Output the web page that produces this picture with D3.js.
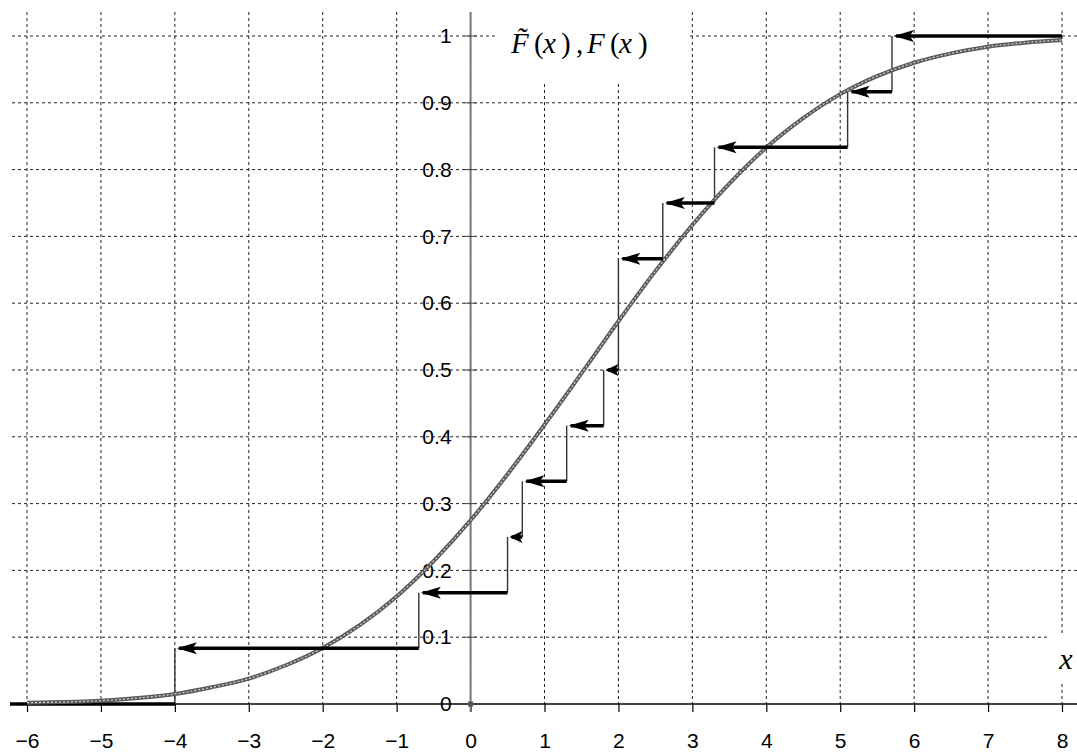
<!DOCTYPE html>
<html>
<head>
<meta charset="utf-8">
<script src="https://cdn.jsdelivr.net/npm/d3@7"></script>
<style>
  body { margin: 0; background: #fff; }
  svg { display: block; }
</style>
</head>
<body>
<div id="chart"></div>
<script>
// sample (sorted) that gives the empirical distribution function
var sampleX = [-4, -0.7, 0.5, 0.7, 1.3, 1.8, 2, 2, 2.6, 3.3, 5.1, 5.7];
// theoretical F(x)
var curveX = [-6, -5.5, -5, -4.5, -4, -3.5, -3, -2.5, -2, -1.5, -1, -0.5, 0, 0.5, 1, 1.5, 2, 2.5, 3, 3.5, 4, 4.5, 5, 5.5, 6, 6.5, 7, 7.5, 8];
var curveF = [0.002, 0.003, 0.005, 0.009, 0.015, 0.025, 0.038, 0.058, 0.084, 0.118, 0.161, 0.214, 0.275, 0.344, 0.418, 0.495, 0.573, 0.648, 0.717, 0.779, 0.833, 0.877, 0.913, 0.940, 0.960, 0.974, 0.984, 0.990, 0.994];
// axes
var xTicks = [-6, -5, -4, -3, -2, -1, 0, 1, 2, 3, 4, 5, 6, 7, 8];
var yTicks = [0, 0.1, 0.2, 0.3, 0.4, 0.5, 0.6, 0.7, 0.8, 0.9, 1];
var yTickLabels = ["0", "0.1", "0.2", "0.3", "0.4", "0.5", "0.6", "0.7", "0.8", "0.9", "1"];
var xStart = -6.23, xEnd = 8;

var width = 1077, height = 753;
var x = d3.scaleLinear().domain([-6, 8]).range([27, 1062]);
var y = d3.scaleLinear().domain([0, 1]).range([704, 36]);
var sans = "'Liberation Sans', Arial, sans-serif";
var serif = "'Liberation Serif', 'Times New Roman', serif";

var svg = d3.select("#chart").append("svg").attr("width", width).attr("height", height);

// dashed grid
svg.append("g").selectAll("line").data(xTicks).enter().append("line")
	.attr("x1", function(d) { return x(d); }).attr("x2", function(d) { return x(d); })
	.attr("y1", 12).attr("y2", y(0))
	.attr("stroke", "#222").attr("stroke-width", 1).attr("stroke-dasharray", "3,3");
svg.append("g").selectAll("line").data(yTicks.slice(1)).enter().append("line")
	.attr("x1", 12).attr("x2", width)
	.attr("y1", function(d) { return y(d); }).attr("y2", function(d) { return y(d); })
	.attr("stroke", "#222").attr("stroke-width", 1).attr("stroke-dasharray", "3,3");

// white patches behind the titles
svg.append("rect").attr("x", 497).attr("y", 0).attr("width", 190).attr("height", 81).attr("fill", "#fff");
svg.append("rect").attr("x", 1050).attr("y", 634).attr("width", 27).attr("height", 49).attr("fill", "#fff");

// x axis
svg.append("line").attr("x1", 10).attr("x2", width).attr("y1", y(0)).attr("y2", y(0))
	.attr("stroke", "#000").attr("stroke-width", 1.5);
var xAxis = d3.axisBottom(x).tickValues(xTicks).tickSize(8).tickPadding(21).tickFormat(d3.format("d"));
var gx = svg.append("g").attr("transform", "translate(0," + y(0) + ")").call(xAxis);
gx.select(".domain").remove();
gx.selectAll(".tick line").attr("stroke", "#000").attr("stroke-width", 1.2);
gx.attr("font-size", 21).attr("font-family", sans);
gx.selectAll("text").attr("fill", "#000");

// y axis
svg.append("line").attr("x1", x(0)).attr("x2", x(0)).attr("y1", 12).attr("y2", y(0) + 8)
	.attr("stroke", "#777").attr("stroke-width", 2);
svg.append("g").selectAll("line").data(yTicks.slice(1)).enter().append("line")
	.attr("x1", x(0) - 6).attr("x2", x(0) + 6)
	.attr("y1", function(d) { return y(d); }).attr("y2", function(d) { return y(d); })
	.attr("stroke", "#444").attr("stroke-width", 1);
var yAxis = d3.axisLeft(y).tickValues(yTicks).tickSize(0).tickPadding(19)
	.tickFormat(function(d, i) { return yTickLabels[i]; });
var gy = svg.append("g").attr("transform", "translate(" + x(0) + ",0)").call(yAxis);
gy.select(".domain").remove();
gy.selectAll(".tick line").remove();
gy.attr("font-size", 21).attr("font-family", sans);
gy.selectAll("text").attr("fill", "#000");
svg.append("rect").attr("x", x(0) - 2.5).attr("y", y(0) - 2.5).attr("width", 5).attr("height", 5).attr("fill", "#555");

// empirical distribution function
var n = sampleX.length;
var steps = [];
var lastLevel = 0;
for (var i = 0; i < n; i++) {
	if (i < n - 1 && sampleX[i + 1] == sampleX[i]) continue;
	var level = (i + 1) / n;
	var next = i < n - 1 ? sampleX[i + 1] : xEnd;
	steps.push({ x0: sampleX[i], x1: next, lo: lastLevel, level: level });
	lastLevel = level;
}

// thin vertical jumps
svg.append("g").selectAll("line").data(steps).enter().append("line")
	.attr("x1", function(d) { return x(d.x0); }).attr("x2", function(d) { return x(d.x0); })
	.attr("y1", function(d) { return y(d.lo); }).attr("y2", function(d) { return y(d.level); })
	.attr("stroke", "#333").attr("stroke-width", 1.4);

// level 0 before the first point
svg.append("line").attr("x1", x(xStart)).attr("x2", x(sampleX[0])).attr("y1", y(0)).attr("y2", y(0))
	.attr("stroke", "#000").attr("stroke-width", 3.5);

// smooth curve
var line = d3.line().x(function(d) { return x(d[0]); }).y(function(d) { return y(d[1]); }).curve(d3.curveMonotoneX);
var curveData = curveX.map(function(v, i) { return [v, curveF[i]]; });
svg.append("path").datum(curveData).attr("d", line).attr("fill", "none")
	.attr("stroke", "#5a5a5a").attr("stroke-width", 4);
svg.append("path").datum(curveData).attr("d", line).attr("fill", "none")
	.attr("stroke", "#ccc").attr("stroke-width", 1.3).attr("stroke-dasharray", "2,2");

// thick horizontal segments with arrowheads pointing left
svg.append("g").selectAll("line").data(steps).enter().append("line")
	.attr("x1", function(d) { return x(d.x0) + 4; }).attr("x2", function(d) { return x(d.x1); })
	.attr("y1", function(d) { return y(d.level); }).attr("y2", function(d) { return y(d.level); })
	.attr("stroke", "#000").attr("stroke-width", 3.5);
svg.append("g").selectAll("path").data(steps).enter().append("path")
	.attr("d", function(d) {
		var tip = x(d.x0) + 2;
		var len = Math.min(20, x(d.x1) - tip);
		var yy = y(d.level);
		return "M" + tip + "," + yy + "L" + (tip + len) + "," + (yy - 6) + "L" + (tip + len * 0.78) + "," + yy +
			"L" + (tip + len) + "," + (yy + 6) + "Z";
	})
	.attr("fill", "#000");

// axis titles (one text element, pieces placed by tspans)
var title = svg.append("text").style("font-family", serif).style("font-size", "29px");
var parts = [
	{ t: "F\u0303", x: 511, it: true },
	{ t: "(", x: 534, it: false },
	{ t: "x", x: 543, it: true },
	{ t: ")", x: 561, it: false },
	{ t: ",", x: 576, it: false },
	{ t: "F", x: 587, it: true },
	{ t: "(", x: 610, it: false },
	{ t: "x", x: 619, it: true },
	{ t: ")", x: 638, it: false }
];
title.selectAll("tspan").data(parts).enter().append("tspan")
	.attr("x", function(d) { return d.x; }).attr("y", 53)
	.style("font-style", function(d) { return d.it ? "italic" : "normal"; })
	.text(function(d) { return d.t; });
svg.append("text").attr("x", 1066).attr("y", 669).attr("text-anchor", "middle")
	.style("font-family", serif).style("font-style", "italic").style("font-size", "30px")
	.text("x");
</script>
</body>
</html>
